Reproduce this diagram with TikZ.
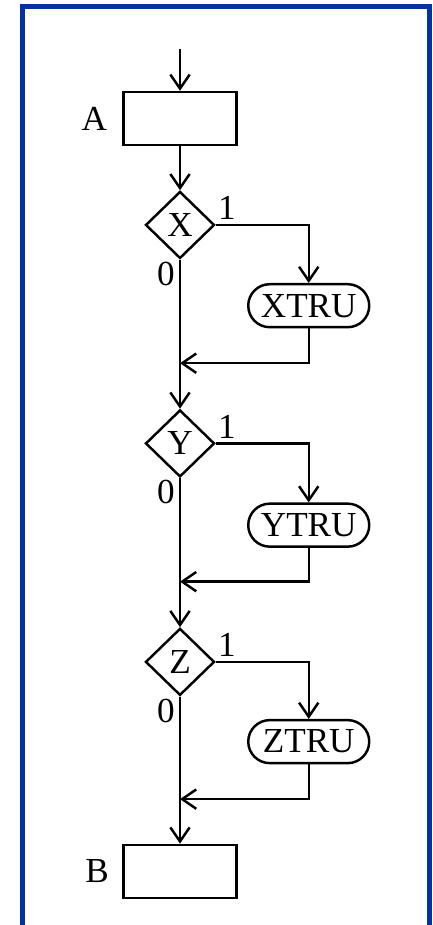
\documentclass[tikz,border=0pt]{standalone}
\usepackage{fontspec}
\setmainfont{Liberation Serif}
\usepackage{xcolor}
\usepackage{tikz}
\usetikzlibrary{shapes.geometric, arrows.meta, positioning}
\definecolor{FrameBlue}{RGB}{0, 50, 160}
\tikzset{
  proc/.style={rectangle, draw, minimum width=2.26cm, minimum height=1.06cm,
    line width=1.4pt},
  dec/.style={diamond, draw, aspect=1, inner sep=0pt, minimum width=1.38cm,
    minimum height=1.34cm, line width=1.4pt},
  term/.style={rectangle, rounded corners=0.43cm, draw, minimum width=2.42cm,
    minimum height=0.86cm, inner sep=0pt, line width=1.4pt},
  lbl/.style={inner sep=0pt},
  arr/.style={-{Straight Barb[length=8pt,width=11pt]}, line width=1.4pt},
}

\begin{document}
\begin{tikzpicture}[font=\fontsize{20}{24}\selectfont]
  \useasboundingbox (0,0) rectangle (8.66,-18.5);
  \draw[line width=2.4pt, FrameBlue] (0.45,-18.5) |- (8.59,-0.13) -- (8.59,-18.5);

  \node[proc] (A) at (3.6,-2.37) {};
  \node[lbl, left=0.3cm of A] {A};
  \coordinate[above=0.84cm of A] (in);

  \node[dec, below=0.88cm of A] (X) {X};
  \node[term, below=1.16cm of X.east, xshift=1.86cm] (xtru) {XTRU};
  \coordinate[below=2.07cm of X.south] (jx);

  \node[dec, below=2.98cm of X] (Y) {Y};
  \node[term, below=1.18cm of Y.east, xshift=1.86cm] (ytru) {YTRU};
  \coordinate[below=2.07cm of Y.south] (jy);

  \node[dec, below=2.98cm of Y] (Z) {Z};
  \node[term, below=1.14cm of Z.east, xshift=1.86cm] (ztru) {ZTRU};
  \coordinate[below=2.05cm of Z.south] (jz);

  \node[proc, below=2.94cm of Z] (B) {};
  \node[lbl, left=0.26cm of B] {B};

  % branch labels
  \node[lbl, above right=0.1cm and 0.04cm of X.east] {1};
  \node[lbl, below left=0.04cm and 0.1cm of X.south] {0};
  \node[lbl, above right=0.1cm and 0.04cm of Y.east] {1};
  \node[lbl, below left=0.04cm and 0.1cm of Y.south] {0};
  \node[lbl, above right=0.1cm and 0.04cm of Z.east] {1};
  \node[lbl, below left=0.04cm and 0.1cm of Z.south] {0};

  \draw[arr] (in)--(A);
  \draw[arr] (A)--(X);
  \draw[arr] (X.east)-|(xtru.north);
  \draw[arr] (xtru.south)|-(jx);
  \draw[arr] (X.south)--(Y.north);
  \draw[arr] (Y.east)-|(ytru.north);
  \draw[arr] (ytru.south)|-(jy);
  \draw[arr] (Y.south)--(Z.north);
  \draw[arr] (Z.east)-|(ztru.north);
  \draw[arr] (ztru.south)|-(jz);
  \draw[arr] (Z.south)--(B.north);
\end{tikzpicture}
\end{document}
